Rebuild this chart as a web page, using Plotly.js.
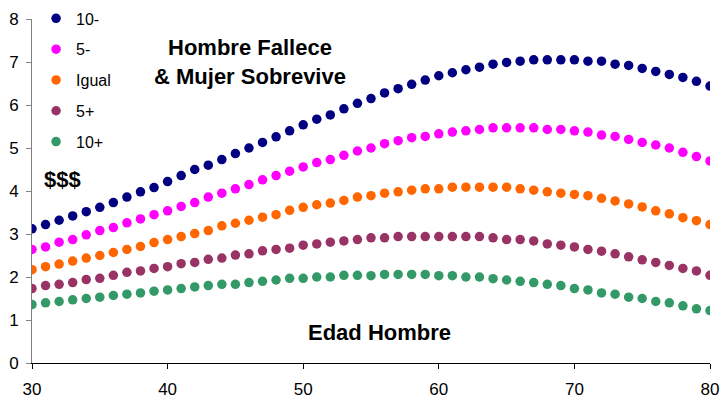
<!DOCTYPE html>
<html>
<head>
<meta charset="utf-8">
<script src="https://cdn.plot.ly/plotly-3.0.1.min.js"></script>
<style>html,body{margin:0;padding:0;background:#fff;}#chart{width:722px;height:400px;}</style>
</head>
<body>
<div id="chart"></div>
<script>
const ages = [];
for (let a = 30; a <= 80; a++) ages.push(a);

const seriesNames = ["10-", "5-", "Igual", "5+", "10+"];
const seriesColors = ["#000080", "#FF00FF", "#FF6600", "#993366", "#339966"];

const menos10 = [3.12,3.22,3.32,3.42,3.52,3.62,3.73,3.86,3.98,4.08,
  4.22,4.36,4.50,4.60,4.73,4.87,5.00,5.13,5.26,5.40,
  5.54,5.67,5.77,5.91,6.04,6.15,6.28,6.38,6.48,6.58,
  6.68,6.75,6.82,6.88,6.95,6.99,7.02,7.05,7.05,7.05,
  7.05,7.02,7.02,6.95,6.92,6.85,6.78,6.71,6.64,6.55,6.44];
const menos5 = [2.64,2.70,2.81,2.87,2.98,3.08,3.15,3.26,3.35,3.45,
  3.54,3.64,3.73,3.86,3.95,4.05,4.15,4.26,4.36,4.46,
  4.56,4.66,4.73,4.83,4.93,5.00,5.10,5.17,5.24,5.27,
  5.33,5.37,5.40,5.43,5.47,5.47,5.47,5.47,5.43,5.43,
  5.40,5.37,5.30,5.27,5.20,5.13,5.07,5.00,4.90,4.80,4.70];
const igual = [2.17,2.24,2.30,2.37,2.44,2.50,2.57,2.64,2.71,2.80,
  2.87,2.94,3.01,3.08,3.19,3.25,3.32,3.39,3.45,3.55,
  3.62,3.68,3.72,3.78,3.86,3.89,3.95,3.98,4.02,4.05,
  4.05,4.09,4.09,4.09,4.09,4.09,4.05,4.02,3.98,3.95,
  3.92,3.89,3.83,3.77,3.70,3.63,3.54,3.47,3.38,3.31,3.22];
const mas5 = [1.73,1.80,1.83,1.87,1.94,1.97,2.04,2.11,2.14,2.20,
  2.24,2.31,2.34,2.41,2.44,2.51,2.54,2.61,2.64,2.67,
  2.74,2.77,2.81,2.84,2.87,2.91,2.91,2.94,2.94,2.94,
  2.94,2.94,2.94,2.94,2.91,2.87,2.87,2.84,2.77,2.74,
  2.70,2.64,2.60,2.54,2.47,2.40,2.34,2.27,2.20,2.14,2.04];
const mas10 = [1.36,1.40,1.43,1.47,1.50,1.53,1.57,1.60,1.63,1.67,
  1.70,1.73,1.77,1.80,1.83,1.83,1.87,1.90,1.93,1.97,
  1.97,2.00,2.00,2.04,2.04,2.03,2.06,2.06,2.06,2.06,
  2.03,2.03,2.00,2.00,1.96,1.93,1.90,1.87,1.83,1.80,
  1.73,1.70,1.63,1.60,1.53,1.50,1.43,1.40,1.33,1.26,1.22];

const allSeries = [menos10, menos5, igual, mas5, mas10];
const xTicks = [30, 40, 50, 60, 70, 80];
const yTicks = [0, 1, 2, 3, 4, 5, 6, 7, 8];

const chartTitle = "Hombre Fallece<br>& Mujer Sobrevive";
const yLabel = "$$$";
const xLabel = "Edad Hombre";

const FONT = "Liberation Sans, Arial, sans-serif";

const traces = allSeries.map((vals, i) => ({
  type: "scatter",
  mode: "markers",
  x: ages,
  y: vals,
  name: seriesNames[i],
  legendgroup: "g" + i,
  marker: { color: seriesColors[i], size: 9.5 },
  hoverinfo: "x+y+name"
}));

const layout = {
  width: 722,
  height: 400,
  margin: { l: 32, r: 12, t: 19, b: 37, autoexpand: false },
  paper_bgcolor: "#ffffff",
  plot_bgcolor: "#ffffff",
  font: { family: FONT, size: 17, color: "#000000" },
  showlegend: true,
  legend: {
    x: 0.006, y: 1.051, xanchor: "left", yanchor: "top",
    xref: "paper", yref: "paper",
    bgcolor: "rgba(0,0,0,0)",
    font: { family: FONT, size: 16, color: "#000" },
    tracegroupgap: 7,
    traceorder: "grouped",
    itemwidth: 30
  },
  xaxis: {
    range: [30, 80],
    tickvals: xTicks,
    ticktext: xTicks.map(String),
    showgrid: false, zeroline: false,
    showline: true, linecolor: "#000000", linewidth: 1,
    ticks: "outside", ticklen: 5, tickcolor: "#000000",
    ticklabelstandoff: 6,
    tickfont: { family: FONT, size: 17, color: "#000" },
    fixedrange: true
  },
  yaxis: {
    range: [0, 8],
    tickvals: yTicks,
    ticktext: yTicks.map(String),
    showgrid: false, zeroline: false,
    showline: true, linecolor: "#808080", linewidth: 1,
    ticks: "outside", ticklen: 5, tickcolor: "#808080",
    ticklabelstandoff: 4,
    tickfont: { family: FONT, size: 17, color: "#000" },
    fixedrange: true
  },
  annotations: [
    { text: "<b>" + chartTitle + "</b>", xref: "x", yref: "y", x: 46.1, y: 6.99,
      showarrow: false, font: { family: FONT, size: 22, color: "#000" }, align: "center" },
    { text: "<b>" + yLabel + "</b>", xref: "x", yref: "y", x: 32.25, y: 4.26,
      showarrow: false, font: { family: FONT, size: 22, color: "#000" } },
    { text: "<b>" + xLabel + "</b>", xref: "x", yref: "y", x: 55.63, y: 0.70,
      showarrow: false, font: { family: FONT, size: 22, color: "#000" } }
  ]
};

Plotly.newPlot("chart", traces, layout, { displayModeBar: false, staticPlot: true });
</script>
</body>
</html>
